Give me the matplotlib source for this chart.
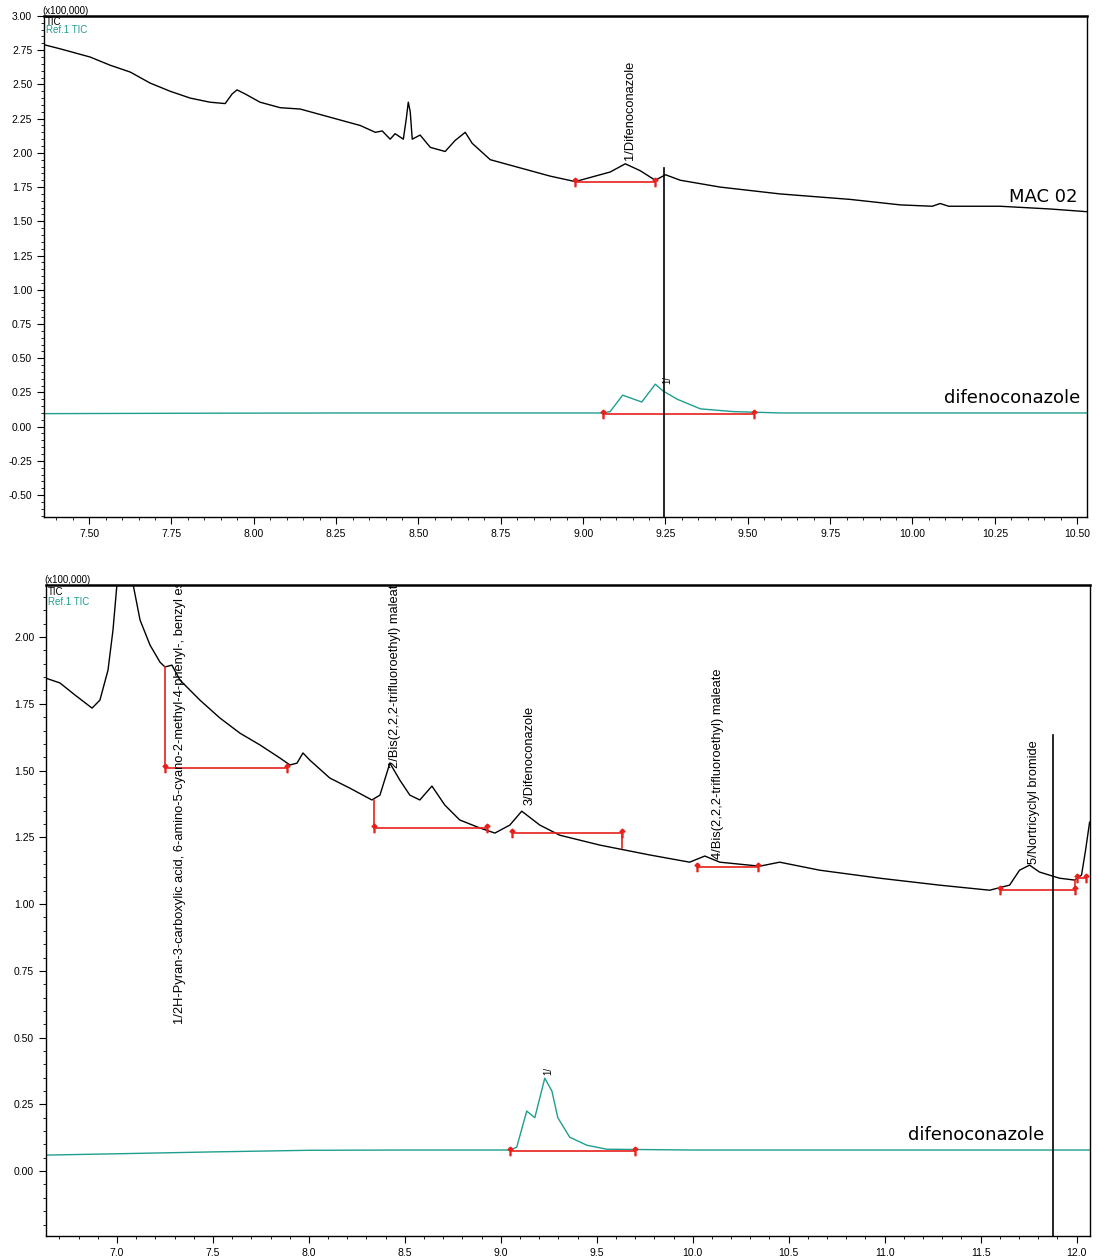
import matplotlib.pyplot as plt
from matplotlib.ticker import MultipleLocator, FormatStrFormatter

# ---- top run (MAC 02) ----
top_tic_t = [7.363, 7.412, 7.503, 7.564, 7.625, 7.685, 7.746, 7.807, 7.867, 7.913, 7.934, 7.949,
             7.974, 8.019, 8.080, 8.141, 8.232, 8.323, 8.369, 8.390, 8.414, 8.429, 8.454, 8.463,
             8.469, 8.475, 8.481, 8.505, 8.536, 8.581, 8.611, 8.642, 8.663, 8.718, 8.809, 8.900,
             8.976, 9.021, 9.082, 9.128, 9.173, 9.219, 9.250, 9.295, 9.416, 9.598, 9.811, 9.963,
             10.060, 10.084, 10.110, 10.266, 10.418, 10.531]
top_tic_v = [2.79, 2.76, 2.70, 2.64, 2.59, 2.51, 2.45, 2.40, 2.37, 2.36, 2.43, 2.46,
             2.43, 2.37, 2.33, 2.32, 2.26, 2.20, 2.15, 2.16, 2.10, 2.14, 2.10, 2.25,
             2.37, 2.30, 2.10, 2.13, 2.04, 2.01, 2.09, 2.15, 2.07, 1.95, 1.89, 1.83,
             1.79, 1.82, 1.86, 1.92, 1.87, 1.80, 1.84, 1.80, 1.75, 1.70, 1.66, 1.62,
             1.61, 1.63, 1.61, 1.61, 1.59, 1.57]

top_ref_t = [7.363, 7.80, 8.30, 8.80, 9.060, 9.082, 9.120, 9.178, 9.219, 9.243, 9.286, 9.356,
             9.456, 9.60, 10.00, 10.531]
top_ref_v = [0.095, 0.098, 0.100, 0.100, 0.100, 0.11, 0.23, 0.18, 0.31, 0.26, 0.20, 0.13,
             0.11, 0.10, 0.10, 0.10]

top_base_tic = [(8.976, 9.219, 1.79)]
top_base_ref = [(9.06, 9.52, 0.095)]
top_cursor = (9.245, 1.89)

# ---- bottom run ----
bot_tic_t = [6.630, 6.703, 6.781, 6.870, 6.911, 6.953, 6.979, 7.000, 7.042, 7.083, 7.120, 7.172,
             7.224, 7.250, 7.286, 7.328, 7.432, 7.536, 7.641, 7.745, 7.849, 7.901, 7.938, 7.969,
             8.005, 8.109, 8.214, 8.328, 8.370, 8.422, 8.474, 8.526, 8.578, 8.641, 8.708, 8.786,
             8.891, 8.969, 9.047, 9.109, 9.203, 9.307, 9.516, 9.776, 9.984, 10.063, 10.141, 10.349,
             10.453, 10.661, 10.974, 11.286, 11.547, 11.651, 11.703, 11.755, 11.807, 11.911, 11.990,
             12.026, 12.047, 12.068]
bot_tic_v = [1.846, 1.828, 1.783, 1.734, 1.764, 1.876, 2.026, 2.20, 2.50, 2.20, 2.064, 1.970,
             1.906, 1.888, 1.895, 1.839, 1.764, 1.697, 1.640, 1.596, 1.547, 1.521, 1.528, 1.566,
             1.539, 1.472, 1.434, 1.390, 1.408, 1.528, 1.464, 1.408, 1.390, 1.442, 1.371, 1.315,
             1.285, 1.266, 1.296, 1.348, 1.296, 1.258, 1.221, 1.184, 1.157, 1.180, 1.157, 1.142,
             1.157, 1.127, 1.097, 1.071, 1.052, 1.071, 1.127, 1.146, 1.120, 1.097, 1.090,
             1.109, 1.202, 1.307]

bot_ref_t = [6.630, 7.00, 7.50, 8.00, 8.50, 9.050, 9.083, 9.135, 9.177, 9.229, 9.266, 9.297,
             9.359, 9.448, 9.552, 10.00, 11.00, 12.068]
bot_ref_v = [0.060, 0.065, 0.072, 0.078, 0.079, 0.079, 0.09, 0.225, 0.20, 0.348, 0.30, 0.20,
             0.127, 0.097, 0.082, 0.079, 0.079, 0.079]

# horizontal baselines (start, end, level) and vertical drops (t, from, to)
bot_base_tic = [(7.250, 7.885, 1.51), (8.339, 8.927, 1.285), (9.057, 9.630, 1.266),
                (10.02, 10.34, 1.139), (11.599, 11.99, 1.052), (12.00, 12.05, 1.098)]
bot_drops = [(7.250, 1.888, 1.51), (8.339, 1.39, 1.285), (9.630, 1.266, 1.21), (11.99, 1.052, 1.09)]
bot_base_ref = [(9.047, 9.698, 0.075)]
bot_cursor = (11.875, 1.633)

# peak labels (t, bottom value, text)
bot_labels = [(7.33, 0.55, "1/2H-Pyran-3-carboxylic acid, 6-amino-5-cyano-2-methyl-4-phenyl-, benzyl ester"),
              (8.45, 1.51, "2/Bis(2,2,2-trifluoroethyl) maleate"),
              (9.15, 1.37, "3/Difenoconazole"),
              (10.13, 1.17, "4/Bis(2,2,2-trifluoroethyl) maleate"),
              (11.78, 1.15, "5/Nortricyclyl bromide")]
top_labels = [(9.143, 1.95, "1/Difenoconazole")]

teal = '#1f9e90'
red = '#e8201c'
plt.rcParams['font.family'] = ['Liberation Sans', 'DejaVu Sans']

fig = plt.figure(figsize=(10.98, 12.57), dpi=100)
ax1 = fig.add_axes([0.0401, 0.5887, 0.9499, 0.3986])
ax2 = fig.add_axes([0.0419, 0.0167, 0.9508, 0.5179])


def style(ax, xmaj, xmin, fmt):
    ax.xaxis.set_major_locator(MultipleLocator(xmaj))
    ax.xaxis.set_minor_locator(MultipleLocator(xmin))
    ax.xaxis.set_major_formatter(FormatStrFormatter(fmt))
    ax.yaxis.set_major_locator(MultipleLocator(0.25))
    ax.yaxis.set_minor_locator(MultipleLocator(0.05))
    ax.yaxis.set_major_formatter(FormatStrFormatter('%.2f'))
    ax.tick_params(which='major', direction='out', length=5, labelsize=7.5)
    ax.tick_params(which='minor', direction='out', length=2.5)
    for s in ax.spines.values():
        s.set_linewidth(1.0)
    ax.spines['top'].set_linewidth(1.8)
    ax.text(-0.002, 1.0, '(x100,000)', transform=ax.transAxes, fontsize=7, va='bottom', ha='left')
    ax.text(0.002, 0.997, 'TIC', transform=ax.transAxes, fontsize=7, va='top')
    ax.text(0.002, 0.982, 'Ref.1 TIC', transform=ax.transAxes, fontsize=7, va='top', color=teal)


def draw_base(ax, segs, drops=()):
    for t0, t1, v in segs:
        ax.plot([t0, t1], [v, v], color=red, lw=1.2)
        ax.plot([t0, t1], [v, v], ls='none', marker=r'$\uparrow$', color=red, ms=6)
    for t, v0, v1 in drops:
        ax.plot([t, t], [v0, v1], color=red, lw=1.2)


# top panel
ax1.plot(top_tic_t, top_tic_v, color='black', lw=1)
ax1.plot(top_ref_t, top_ref_v, color=teal, lw=1)
draw_base(ax1, top_base_tic)
draw_base(ax1, top_base_ref)
ax1.plot([top_cursor[0], top_cursor[0]], [top_cursor[1], -0.7], color='black', lw=1.2)
for t, v, s in top_labels:
    ax1.text(t, v, s, rotation=90, fontsize=9.3, ha='center', va='bottom')
ax1.text(9.255, 0.31, '1/', rotation=90, fontsize=7, ha='center', va='bottom')
ax1.text(10.50, 1.674, 'MAC 02', fontsize=13, ha='right', va='center', family='DejaVu Sans')
ax1.text(10.51, 0.21, 'difenoconazole', fontsize=13, ha='right', va='center', family='DejaVu Sans')
ax1.set_xlim(7.363, 10.53)
ax1.set_ylim(-0.66, 3.0)
style(ax1, 0.25, 0.05, '%.2f')

# bottom panel
ax2.plot(bot_tic_t, bot_tic_v, color='black', lw=1)
ax2.plot(bot_ref_t, bot_ref_v, color=teal, lw=1)
draw_base(ax2, bot_base_tic, bot_drops)
draw_base(ax2, bot_base_ref)
ax2.plot([bot_cursor[0], bot_cursor[0]], [bot_cursor[1], -0.3], color='black', lw=1.2)
for t, v, s in bot_labels:
    ax2.text(t, v, s, rotation=90, fontsize=9.3, ha='center', va='bottom', clip_on=True)
ax2.text(9.245, 0.36, '1/', rotation=90, fontsize=7, ha='center', va='bottom')
ax2.text(11.83, 0.135, 'difenoconazole', fontsize=13, ha='right', va='center', family='DejaVu Sans')
ax2.set_xlim(6.63, 12.07)
ax2.set_ylim(-0.243, 2.195)
style(ax2, 0.5, 0.1, '%.1f')

fig.savefig('out.png', dpi=100)
